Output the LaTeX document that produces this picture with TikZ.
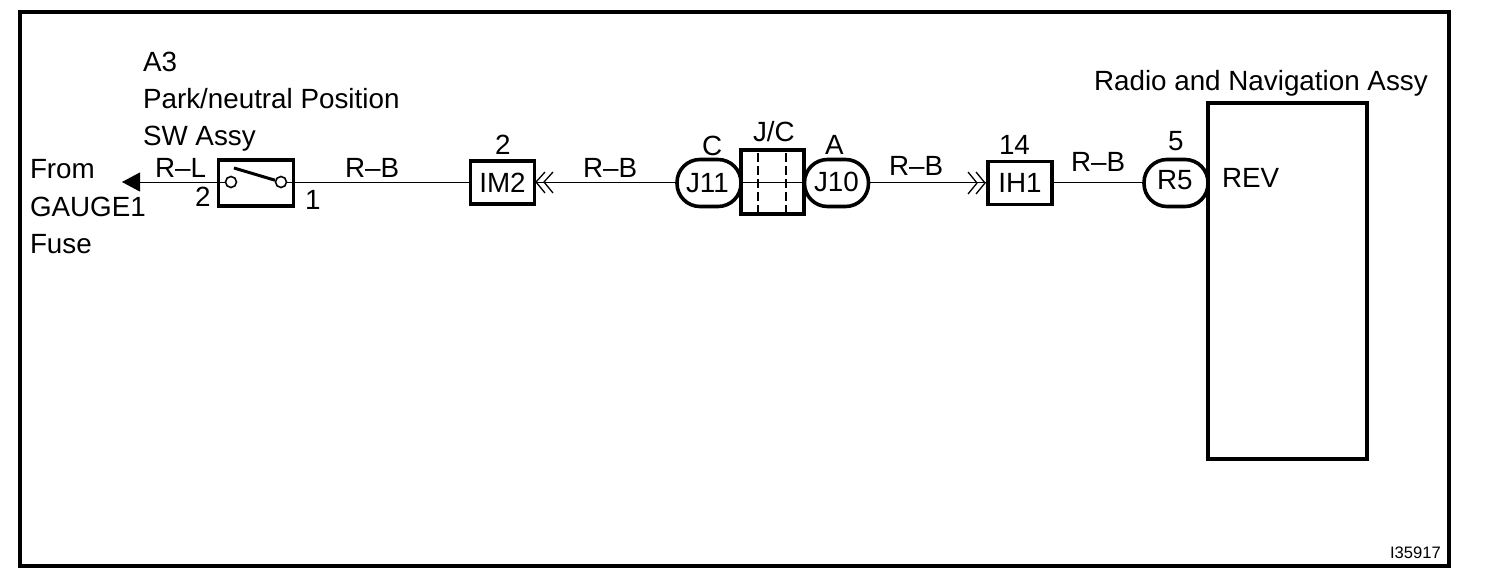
\documentclass[tikz,border=0pt]{standalone}
\usepackage{fontspec}
\setmainfont{Liberation Sans}
\usetikzlibrary{arrows.meta}
\begin{document}
\begin{tikzpicture}[x=1pt,y=-1pt,
  txt/.style={anchor=base west,inner sep=0pt,outer sep=0pt,font=\fontsize{27.8}{30}\selectfont},
  boxthick/.style={draw=black,line width=3.6pt,inner sep=0pt,minimum width=#1},
  pill/.style={draw=black,line width=3.6pt,inner sep=0pt,minimum width=64pt,minimum height=47pt,rounded corners=23pt,font=\fontsize{27.8}{30}\selectfont},
  wire/.style={line width=1pt,black},
  chev/.style={line width=1.3pt,black},
  contact/.style={circle,draw=black,line width=1.6pt,inner sep=0pt,minimum size=11pt}]
\useasboundingbox (0,0) rectangle (1504,586);
\fill[white] (0,0) rectangle (1504,586);
\draw[line width=3.4pt] (20,12) rectangle (1449,566);
% components
\node[boxthick=75pt,minimum height=46pt] (sw) at (256,183) {};
\node[contact] (c2) at (231,182) {};
\node[contact] (c1) at (281,182) {};
\coordinate (blade) at (234,168);
\draw[line width=3pt] (blade) -- (c1);
\node[boxthick=64pt,minimum height=43pt,font=\fontsize{27.8}{30}\selectfont] (im2) at (502.5,182.5) {IM2};
\node[boxthick=63pt,minimum height=64pt] (jc) at (772.5,182) {};
\node[pill] (j11) at (709,183) {};
\node[pill] (j10) at (836.5,183) {};
\node[boxthick=64pt,minimum height=43pt,font=\fontsize{27.8}{30}\selectfont] (ih1) at (1020,183) {IH1};
\node[pill] (r5) at (1176,183) {};
\node[boxthick=159pt,minimum height=356pt] (radio) at (1287.5,281) {};
\coordinate (tip) at (122,182);
% connectors
\draw[wire,-{Triangle[length=18pt,width=19pt]}] (c2) -- (tip);
\draw[wire] (c1) -- (im2.west |- c1);
\draw[wire] (im2.east |- c1) -- (j11.west |- c1);
\draw[wire] (j11.east |- c1) -- (j10.west |- c1);
\draw[wire] (j10.east |- c1) -- (ih1.west |- c1);
\draw[wire] (ih1.east |- c1) -- (r5.west |- c1);
\draw[line width=1.3pt,dash pattern=on 9pt off 4pt] (758,153) -- (758,212);
\draw[line width=1.3pt,dash pattern=on 9pt off 4pt] (786,153) -- (786,212);
% chevrons
\draw[chev] (545,172) -- (536,182) -- (545,193);
\draw[chev] (553,172) -- (544,182) -- (553,193);
\draw[chev] (968,172) -- (977,183) -- (968,194);
\draw[chev] (976,172) -- (985,183) -- (976,194);
% labels
\node[txt] (j11t) at (686,192) {J11};
\node[txt] (j10t) at (814,191) {J10};
\node[txt] (r5t) at (1157,189) {R5};
\node[txt] (a3) at (143,71) {A3};
\node[txt] (park) at (143,108) {Park/neutral Position};
\node[txt] (swa) at (143,145) {SW Assy};
\node[txt] (from) at (30,178) {From};
\node[txt] (gauge) at (30,216) {GAUGE1};
\node[txt] (fuse) at (30,253) {Fuse};
\node[txt] (rl) at (155,177) {R--L};
\node[txt] (p2) at (195,206) {2};
\node[txt] (p1) at (305,209) {1};
\node[txt] (rb1) at (345,177) {R--B};
\node[txt] (n2) at (495,154) {2};
\node[txt] (rb2) at (583,177) {R--B};
\node[txt] (cc) at (702,155) {C};
\node[txt] (jct) at (753,141) {J/C};
\node[txt] (aa) at (825,154) {A};
\node[txt] (rb3) at (889,175) {R--B};
\node[txt] (n14) at (999,154) {14};
\node[txt] (rb4) at (1071,171) {R--B};
\node[txt] (n5) at (1168,150) {5};
\node[txt] (rev) at (1222,187) {REV};
\node[txt] (rt) at (1094,90) {Radio and Navigation Assy};
\node[txt,font=\fontsize{16.6}{18}\selectfont] (id) at (1390,558) {I35917};
\end{tikzpicture}
\end{document}
